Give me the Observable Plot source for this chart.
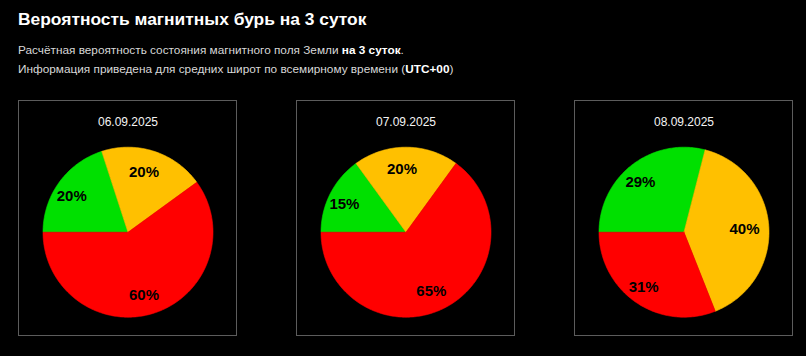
<!DOCTYPE html>
<html>
<head>
<meta charset="utf-8">
<script src="https://cdn.jsdelivr.net/npm/d3@7"></script>
<script src="https://cdn.jsdelivr.net/npm/@observablehq/plot@0.6"></script>
<style>
  html, body { margin: 0; padding: 0; background: #000; }
  body { width: 806px; height: 356px; position: relative; overflow: hidden; font-family: "Liberation Sans", Arial, sans-serif; }
  #title { position: absolute; left: 18px; top: 11px; font-size: 17.4px; line-height: 17px; font-weight: bold; color: #fff; white-space: nowrap; }
  .sub { position: absolute; left: 18px; font-size: 11.8px; line-height: 12px; color: #d8d8d8; white-space: nowrap; }
  .sub b { color: #fff; }
  .panel { position: absolute; top: 100px; width: 217px; height: 234px; border: 1px solid #5c5c5c; }
  .panel svg { display: block; }
</style>
</head>
<body>
<div id="title">Вероятность магнитных бурь на 3 суток</div>
<div class="sub" style="top:43.5px">Расчётная вероятность состояния магнитного поля Земли <b>на 3 суток</b>.</div>
<div class="sub" style="top:63px">Информация приведена для средних широт по всемирному времени (<b>UTC+00</b>)</div>
<div id="charts"></div>
<script>
// Data
const dates = ["06.09.2025", "07.09.2025", "08.09.2025"];
const states = ["Спокойно", "Возмущение", "Буря"];
const stateColors = ["#00e000", "#ffc000", "#ff0000"];
const calm = [20, 15, 29];
const unsettled = [20, 20, 40];
const storm = [60, 65, 31];
const panelLeft = [18, 296, 574];

const W = 217, H = 234, R = 85, CX = 108.5, CY = 130.7;

dates.forEach((date, i) => {
  const values = [calm[i], unsettled[i], storm[i]];
  const rows = states.map((s, k) => ({state: s, value: values[k]}));
  const arcs = d3.pie().value(d => d.value).sort(null)
    .startAngle(-Math.PI / 2).endAngle(3 * Math.PI / 2)(rows);

  // polygon points for each slice (centre + arc)
  const pts = [];
  const labels = [];
  arcs.forEach(a => {
    const n = Math.max(2, Math.ceil((a.endAngle - a.startAngle) / (Math.PI / 180)));
    pts.push({state: a.data.state, x: 0, y: 0});
    for (let j = 0; j <= n; j++) {
      const t = a.startAngle + (a.endAngle - a.startAngle) * j / n;
      pts.push({state: a.data.state, x: Math.sin(t), y: Math.cos(t)});
    }
    pts.push({state: a.data.state, x: 0, y: 0});
    const m = (a.startAngle + a.endAngle) / 2;
    labels.push({state: a.data.state, x: 0.76 * Math.sin(m), y: 0.76 * Math.cos(m), text: a.data.value + "%"});
  });

  const chart = Plot.plot({
    width: W,
    height: H,
    marginLeft: CX - R,
    marginRight: W - CX - R,
    marginTop: CY - R,
    marginBottom: H - CY - R,
    style: {background: "#000", fontFamily: "'Liberation Sans', Arial, sans-serif", overflow: "visible"},
    x: {domain: [-1, 1], axis: null},
    y: {domain: [-1, 1], axis: null},
    color: {domain: states, range: stateColors},
    marks: [
      Plot.line(pts, {x: "x", y: "y", z: "state", fill: "state", stroke: "state", strokeWidth: 0.6, curve: "linear-closed"}),
      Plot.text(labels, {x: "x", y: "y", text: "text", fill: "#000", fontSize: 15, fontWeight: "bold", dx: -4, dy: 1.5}),
      Plot.text([date], {text: d => d, frameAnchor: "top", lineAnchor: "middle", dy: -25, fill: "#f4f4f4", fontSize: 12})
    ]
  });

  const div = document.createElement("div");
  div.className = "panel";
  div.style.left = panelLeft[i] + "px";
  div.appendChild(chart);
  document.getElementById("charts").appendChild(div);
});
</script>
</body>
</html>
